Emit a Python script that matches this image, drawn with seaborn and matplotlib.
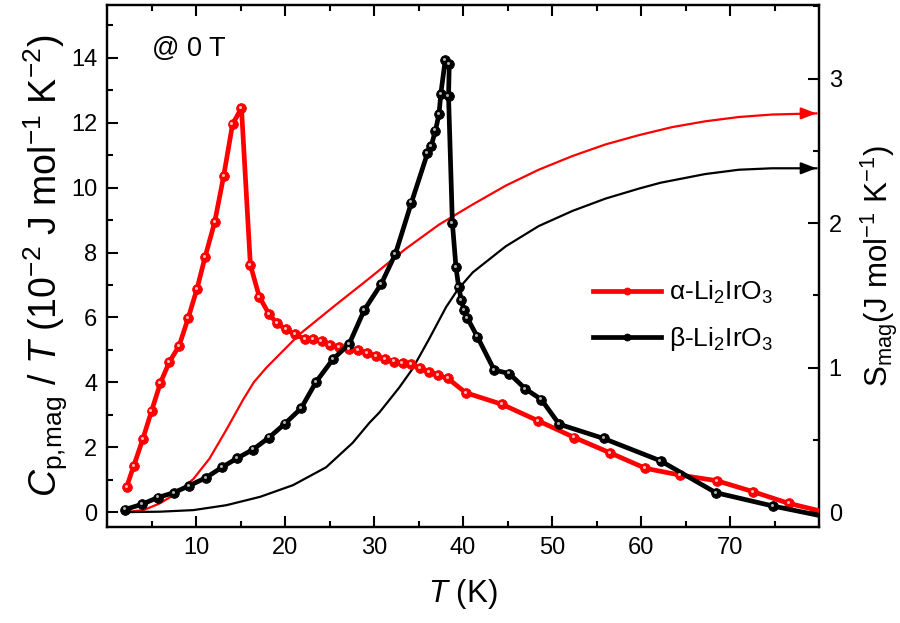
import numpy as np
import pandas as pd
import matplotlib
matplotlib.use("Agg")
import matplotlib.pyplot as plt
from matplotlib.lines import Line2D
from matplotlib.transforms import offset_copy
import seaborn as sns

# ---- magnetic specific heat C_p,mag / T (10^-2 J mol^-1 K^-2) ----
T_alpha = [2.2, 3.0, 4.0, 5.0, 6.0, 7.0, 8.1, 9.1, 10.1, 11.0, 12.1, 13.1, 14.1, 15.1,
           16.1, 17.1, 18.2, 19.1, 20.1, 21.1, 22.2, 23.1, 24.1, 25.1, 26.1, 27.2, 28.2,
           29.2, 30.2, 31.2, 32.2, 33.2, 34.2, 35.2, 36.2, 37.2, 38.3, 40.3, 44.4, 48.4,
           52.5, 56.5, 60.5, 64.4, 68.5, 72.6, 76.6, 79.8]
C_alpha = [0.78, 1.43, 2.24, 3.12, 3.99, 4.63, 5.13, 5.97, 6.88, 7.85, 8.95, 10.36, 11.96, 12.45,
           7.62, 6.64, 6.10, 5.82, 5.63, 5.49, 5.33, 5.33, 5.28, 5.15, 5.10, 5.03, 5.00,
           4.91, 4.81, 4.72, 4.64, 4.60, 4.56, 4.43, 4.33, 4.22, 4.12, 3.68, 3.32, 2.82,
           2.30, 1.83, 1.35, 1.14, 0.97, 0.63, 0.27, 0.06]

T_beta = [2.0, 3.9, 5.7, 7.5, 9.2, 11.1, 12.9, 14.6, 16.4, 18.2, 20.0, 21.8, 23.5, 25.4,
          27.2, 28.9, 30.8, 32.4, 34.2, 36.0, 36.4, 36.9, 37.3, 37.5, 38.0, 38.45, 38.37,
          38.8, 39.2, 39.5, 39.8, 40.1, 40.5, 41.6, 43.5, 45.2, 47.0, 48.8, 50.8, 55.8,
          62.2, 68.4, 74.8, 79.8]
C_beta = [0.08, 0.24, 0.45, 0.60, 0.81, 1.06, 1.38, 1.66, 1.93, 2.30, 2.73, 3.20, 4.02, 4.72,
          5.18, 6.23, 7.03, 7.96, 9.54, 11.06, 11.27, 11.76, 12.27, 12.89, 13.94, 13.81, 12.81,
          8.92, 7.56, 6.95, 6.54, 6.23, 5.97, 5.41, 4.38, 4.27, 3.80, 3.47, 2.71, 2.27,
          1.58, 0.60, 0.19, -0.09]

# ---- magnetic entropy S_mag (J mol^-1 K^-1) ----
TS_alpha = [2.0, 4.1, 5.9, 7.8, 9.7, 11.5, 13.4, 15.3, 16.5, 17.9, 21.6, 25.4, 29.5, 33.5,
            37.3, 41.1, 44.8, 48.5, 52.3, 56.0, 59.8, 63.5, 67.2, 71.0, 74.7, 79.7]
S_alpha = [0.0, 0.014, 0.06, 0.13, 0.23, 0.37, 0.57, 0.78, 0.90, 1.00, 1.23, 1.42, 1.62, 1.82,
           1.99, 2.13, 2.26, 2.37, 2.465, 2.545, 2.61, 2.665, 2.705, 2.735, 2.752, 2.76]

TS_beta = [2.0, 5.9, 9.7, 13.4, 17.2, 20.9, 24.6, 27.6, 29.5, 30.6, 32.8, 34.3, 36.2, 38.1,
           39.4, 41.1, 44.8, 48.5, 52.3, 56.0, 59.8, 62.2, 67.2, 71.0, 74.7, 79.7]
S_beta = [0.0, 0.003, 0.014, 0.048, 0.106, 0.187, 0.31, 0.48, 0.62, 0.69, 0.86, 0.99, 1.20, 1.42,
          1.54, 1.66, 1.84, 1.98, 2.085, 2.17, 2.24, 2.28, 2.34, 2.37, 2.38, 2.38]

# ---- axis ticks ----
x_major = [10, 20, 30, 40, 50, 60, 70]
x_minor = [5, 15, 25, 35, 45, 55, 65, 75]
yl_major = [0, 2, 4, 6, 8, 10, 12, 14]
yl_minor = [1, 3, 5, 7, 9, 11, 13, 15]
yr_major = [0, 1, 2, 3]
yr_minor = [0.5, 1.5, 2.5, 3.5]

labels = ["α-Li$_2$IrO$_3$", "β-Li$_2$IrO$_3$"]
colors = ["#ff0000", "#000000"]
highlights = ["#ffc0c0", "#b0b0b0"]

plt.rcParams.update({
    "font.family": ["Liberation Sans", "DejaVu Sans"],
    "mathtext.fontset": "custom",
    "mathtext.rm": "Liberation Sans",
    "mathtext.it": "Liberation Sans:italic",
    "mathtext.bf": "Liberation Sans:bold",
    "axes.linewidth": 1.6,
    "axes.edgecolor": "black",
    "axes.axisbelow": False,
})

fig = plt.figure(figsize=(9, 6.23), dpi=100)
ax = fig.add_axes([0.119, 0.154, 0.791, 0.838])
ax2 = ax.twinx()

# entropy curves on the right axis
for T, S, c in [(TS_alpha, S_alpha, colors[0]), (TS_beta, S_beta, colors[1])]:
    sns.lineplot(x=T, y=S, ax=ax2, color=c, lw=1.6, sort=False, estimator=None)
    ax2.annotate("", xy=(T[-1], S[-1]), xytext=(T[-1] - 1.6, S[-1]),
                 arrowprops=dict(arrowstyle="-|>,head_length=0.9,head_width=0.35",
                                 color=c, lw=1.6, shrinkA=0, shrinkB=0),
                 annotation_clip=False)

# specific heat curves on the left axis, with a small glint on each marker
glint = offset_copy(ax.transData, fig=fig, x=-0.8, y=0.8, units="points")
for T, C, c, h in [(T_alpha, C_alpha, colors[0], highlights[0]),
                   (T_beta, C_beta, colors[1], highlights[1])]:
    n = len(T)
    sns.lineplot(x=T, y=C, ax=ax, color=c, lw=3.4, sort=False, estimator=None,
                 marker="o", markersize=7, markeredgewidth=0.6, markeredgecolor=c,
                 markevery=list(range(n - 1)), zorder=3)
    ax.plot(T[:-1], C[:-1], ls="none", marker="o", markersize=2.2,
            markerfacecolor=h, markeredgewidth=0, zorder=4, transform=glint)

# put the left axes (with the Cp/T curves) in front of the twin
ax.set_zorder(ax2.get_zorder() + 1)
ax.patch.set_visible(False)

ax.set_xlim(0, 80)
ax.set_ylim(-0.46, 15.63)
ax2.set_ylim(-0.46 * 0.22459, 15.63 * 0.22459)

ax.set_xticks(x_major)
ax.set_xticks(x_minor, minor=True)
ax.set_yticks(yl_major)
ax.set_yticks(yl_minor, minor=True)
ax2.set_yticks(yr_major)
ax2.set_yticks(yr_minor, minor=True)

ax.tick_params(axis="both", which="major", direction="in", length=8, width=1.5,
               colors="black", labelsize=17, pad=7, top=True, right=False)
ax.tick_params(axis="both", which="minor", direction="in", length=4.5, width=1.5,
               colors="black", top=True, right=False)
ax2.tick_params(axis="y", which="major", direction="in", length=8, width=1.5,
                colors="black", labelsize=17, pad=7)
ax2.tick_params(axis="y", which="minor", direction="in", length=4.5, width=1.5,
                colors="black")

ax.set_xlabel(r"$T$ (K)", fontsize=22.5, labelpad=13)
ax.set_ylabel(r"$C_{\mathrm{p,\!mag}}$ / $T$ (10$^{-2}$ J mol$^{-1}$ K$^{-2}$)",
              fontsize=27, labelpad=1)
ax2.set_ylabel(r"S$_{\mathrm{mag}}$(J mol$^{-1}$ K$^{-1}$)", fontsize=22.5,
               rotation=90, labelpad=12)

ax.text(0.063, 0.915, "@ 0 T", transform=ax.transAxes, fontsize=19.5, va="center")

handles = [Line2D([], [], color=colors[i], lw=3.4, marker="o", markersize=5,
                  markerfacecolor=colors[i], markeredgecolor=colors[i],
                  markeredgewidth=0.6) for i in range(2)]
ax.legend(handles, labels, loc="upper left", bbox_to_anchor=(0.682, 0.475),
          frameon=False, fontsize=19, handlelength=2.6, handletextpad=0.3,
          labelspacing=0.7, borderpad=0, borderaxespad=0)

fig.savefig("out.png", dpi=100)
